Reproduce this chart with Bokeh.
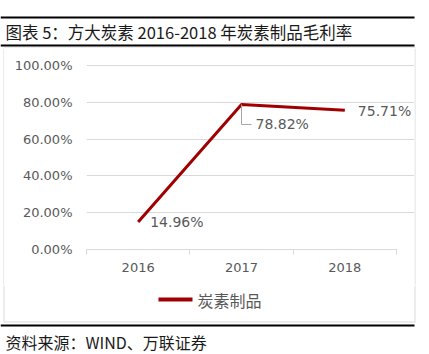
from bokeh.plotting import figure
from bokeh.layouts import column, row
from bokeh.models import (ColumnDataSource, FixedTicker, NumeralTickFormatter,
                          LabelSet, Range1d)
from bokeh.core.properties import value
from bokeh.embed import file_html
from bokeh.resources import INLINE

# ---- data ----
categories = ["2016", "2017", "2018"]
margin = [0.1496, 0.7882, 0.7571]
series_name = "炭素制品"
y_ticks = [0.0, 0.2, 0.4, 0.6, 0.8, 1.0]
title_text = "图表 5：方大炭素 2016-2018 年炭素制品毛利率"
source_text = "资料来源：WIND、万联证券"

LINE_COLOR = "#A00000"
GRAY_TEXT = "#595959"
GRID = "#d9d9d9"
NUM_FONT = "DejaVu Sans"
CJK_FONT = "Noto Sans CJK SC"


def pixel_fig(w, h):
    """A helper figure whose frame is the whole canvas, in pixel units (y down)."""
    f = figure(width=w, height=h, output_backend="svg", toolbar_location=None,
               x_range=Range1d(0, w), y_range=Range1d(h, 0),
               x_axis_location=None, y_axis_location=None,
               min_border=0, min_border_left=0, min_border_right=0,
               min_border_top=0, min_border_bottom=0, frame_align=False)
    f.outline_line_color = None
    f.grid.grid_line_color = None
    f.background_fill_color = "white"
    f.border_fill_color = "white"
    return f


# ---- header ----
head = pixel_fig(429, 48)
head.quad(left=[0, 0, 3], right=[414, 414, 415], top=[16, 44, 47], bottom=[18, 46, 48],
          fill_color=["black", "black", GRID], line_color=None)
head.text(x=[5], y=[31.5], text=[title_text], text_font=value(CJK_FONT),
          text_font_size=value("16.5px"), text_color="#1a1a1a", text_baseline="middle")

# ---- side strips of the chart box ----
left_strip = pixel_fig(4, 237)
left_strip.quad(left=[3], right=[4], top=[0], bottom=[237], fill_color=GRID, line_color=None)
right_strip = pixel_fig(15, 237)
right_strip.quad(left=[0], right=[1], top=[0], bottom=[237], fill_color=GRID, line_color=None)

# ---- main chart ----
xs = list(range(len(categories)))
src = ColumnDataSource(dict(
    x=xs, y=margin, txt=[f"{v*100:.2f}%" for v in margin],
    xoff=[12, 14, 13], yoff=[0, -20, -1]))

px_x = 3.0 / 310.0   # data units per pixel (x)
px_y = 1.0 / 184.0   # data units per pixel (y)

p = figure(width=410, height=237, output_backend="svg", toolbar_location=None,
           x_range=Range1d(-0.5, -0.5 + 328 * px_x), y_range=Range1d(0, 194 * px_y),
           min_border_left=82, min_border_right=0, min_border_top=7,
           min_border_bottom=36, frame_align=False)
p.outline_line_color = None
p.background_fill_color = "white"
p.border_fill_color = "white"

p.yaxis.ticker = FixedTicker(ticks=y_ticks)
p.yaxis.formatter = NumeralTickFormatter(format="0.00%")
p.yaxis.axis_line_color = None
p.yaxis.major_tick_line_color = None
p.yaxis.minor_tick_line_color = None
p.yaxis.major_tick_out = 0
p.yaxis.major_tick_in = 0
p.yaxis.major_label_standoff = 14
p.yaxis.major_label_text_font = NUM_FONT
p.yaxis.major_label_text_font_size = "13px"
p.yaxis.major_label_text_color = GRAY_TEXT

p.xaxis.ticker = FixedTicker(ticks=xs, minor_ticks=[-0.5, 0.5, 1.5, 2.5])
p.xaxis.major_label_overrides = {i: c for i, c in enumerate(categories)}
p.xaxis.bounds = (-0.5, 2.5)
p.xaxis.axis_line_color = GRID
p.xaxis.major_tick_line_color = None
p.xaxis.major_tick_out = 0
p.xaxis.major_tick_in = 0
p.xaxis.minor_tick_line_color = GRID
p.xaxis.minor_tick_out = 5
p.xaxis.minor_tick_in = 0
p.xaxis.major_label_standoff = 8
p.xaxis.major_label_text_font = NUM_FONT
p.xaxis.major_label_text_font_size = "13px"
p.xaxis.major_label_text_color = GRAY_TEXT

p.xgrid.grid_line_color = None
p.ygrid.ticker = FixedTicker(ticks=y_ticks)
p.ygrid.bounds = (-0.5, 2.5)
p.ygrid.grid_line_color = GRID

p.line("x", "y", source=src, line_color=LINE_COLOR, line_width=3)

# leader line for the 2017 label
p.line([xs[1], xs[1], xs[1] + 10 * px_x],
       [margin[1], margin[1] - 20 * px_y, margin[1] - 20 * px_y],
       line_color="#a6a6a6", line_width=1)

p.add_layout(LabelSet(x="x", y="y", text="txt", source=src, x_offset="xoff", y_offset="yoff",
                      text_font=value(NUM_FONT), text_font_size=value("14px"),
                      text_color=GRAY_TEXT, text_baseline="middle", text_align="left"))

# ---- bottom: legend, box bottom, footer ----
foot = pixel_fig(429, 69)
foot.quad(left=[3, 414, 3, 0], right=[4, 415, 415, 414], top=[0, 0, 36, 39],
          bottom=[36, 36, 37, 41],
          fill_color=[GRID, GRID, GRID, "black"], line_color=None)
foot.segment(x0=[158], y0=[14], x1=[192], y1=[14], line_color=LINE_COLOR, line_width=4)
foot.text(x=[197], y=[14], text=[series_name], text_font=value(CJK_FONT),
          text_font_size=value("16px"), text_color=GRAY_TEXT, text_baseline="middle")
foot.text(x=[5], y=[56], text=[source_text], text_font=value(CJK_FONT),
          text_font_size=value("16px"), text_color="#1a1a1a", text_baseline="middle")

layout = column(head, row(left_strip, p, right_strip, spacing=0), foot, spacing=0)

open("out.html", "w").write(file_html(layout, INLINE))
